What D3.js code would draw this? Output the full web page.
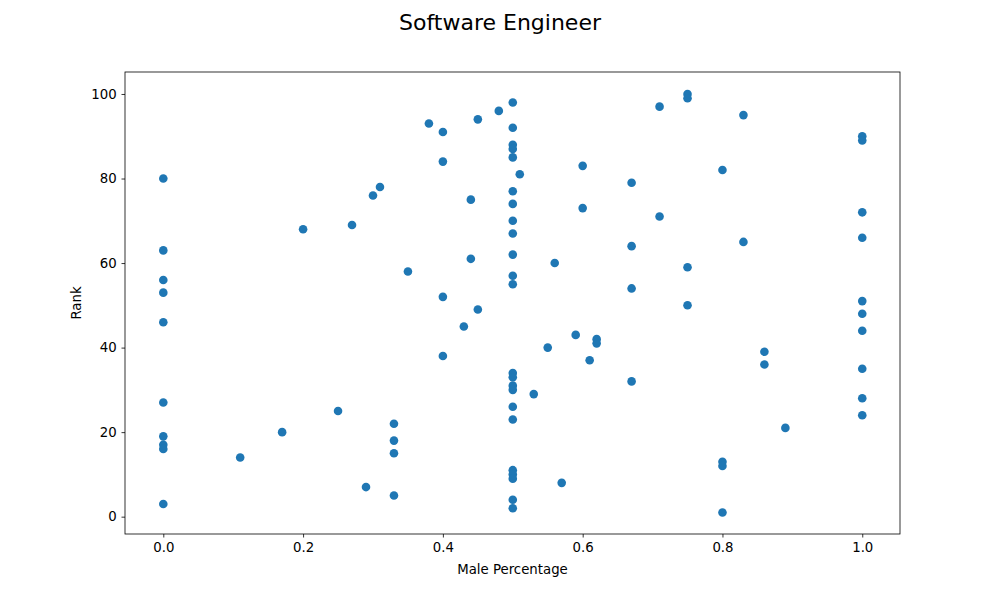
<!DOCTYPE html>
<html><head><meta charset="utf-8">
<script src="https://cdn.jsdelivr.net/npm/d3@7"></script>
<style>body{margin:0;background:#fff}svg text{font-family:"DejaVu Sans",sans-serif;fill:#000}</style>
</head><body><svg id="c" width="1000" height="600"></svg>
<script>
const malePct = [0,0,0,0,0,0,0,0,0,0,
 0.11,0.17,0.2,0.25,0.27,0.29,0.3,0.31,0.33,0.33,0.33,0.33,0.35,0.38,
 0.4,0.4,0.4,0.4,0.43,0.44,0.44,0.45,0.45,0.48,
 0.5,0.5,0.5,0.5,0.5,0.5,0.5,0.5,0.5,0.5,0.5,0.5,0.5,0.5,0.5,0.5,0.5,0.5,0.5,0.5,0.5,0.5,0.5,
 0.51,0.53,0.55,0.56,0.57,0.59,0.6,0.6,0.61,0.62,0.62,
 0.67,0.67,0.67,0.67,0.71,0.71,0.75,0.75,0.75,0.75,
 0.8,0.8,0.8,0.8,0.83,0.83,0.86,0.86,0.89,
 1,1,1,1,1,1,1,1,1,1];
const rank = [80,63,56,53,46,27,19,17,16,3,
 14,20,68,25,69,7,76,78,22,18,15,5,58,93,
 91,84,52,38,45,75,61,94,49,96,
 98,92,88,87,85,77,74,70,67,62,57,55,34,33,31,30,26,23,11,10,9,4,2,
 81,29,40,60,8,43,83,73,37,42,41,
 79,64,54,32,97,71,100,99,59,50,
 82,13,12,1,95,65,39,36,21,
 90,89,72,66,51,48,44,35,28,24];
const xTicks = [0,0.2,0.4,0.6,0.8,1.0];
const yTicks = [0,20,40,60,80,100];

const svg = d3.select("#c");
const L=125,R=900,T=72,B=534;
const x = d3.scaleLinear().domain([-0.0548,1.054]).range([L,R]);
const y = d3.scaleLinear().domain([-4.1,105.2]).range([B,T]);

svg.append("g").attr("transform",`translate(0,${B})`)
  .call(d3.axisBottom(x).tickValues(xTicks).tickFormat(d3.format(".1f")).tickSizeOuter(0).tickSize(3.5).tickPadding(4.9))
  .call(g=>{g.select(".domain").remove();g.selectAll("text").style("font-size","13.3px").attr("font-family","DejaVu Sans");g.selectAll("line").attr("stroke-width",0.8);});
svg.append("g").attr("transform",`translate(${L},0)`)
  .call(d3.axisLeft(y).tickValues(yTicks).tickSizeOuter(0).tickSize(3.5).tickPadding(4.9))
  .call(g=>{g.select(".domain").remove();g.selectAll("text").style("font-size","13.3px").attr("font-family","DejaVu Sans");g.selectAll("line").attr("stroke-width",0.8);});

svg.append("g").selectAll("circle").data(rank).join("circle")
  .attr("cx",(d,i)=>x(malePct[i])).attr("cy",d=>y(d)).attr("r",4.3).attr("fill","#1f77b4");

svg.append("rect").attr("x",L).attr("y",T).attr("width",R-L).attr("height",B-T)
  .attr("fill","none").attr("stroke","#000").attr("stroke-width",0.8);

svg.append("text").attr("x",500).attr("y",30).attr("text-anchor","middle").style("font-size","22px").text("Software Engineer");
svg.append("text").attr("x",(L+R)/2).attr("y",574).attr("text-anchor","middle").style("font-size","13.3px").text("Male Percentage");
svg.append("text").attr("transform",`translate(81,${(T+B)/2}) rotate(-90)`).attr("text-anchor","middle").style("font-size","13.3px").text("Rank");
</script></body></html>
